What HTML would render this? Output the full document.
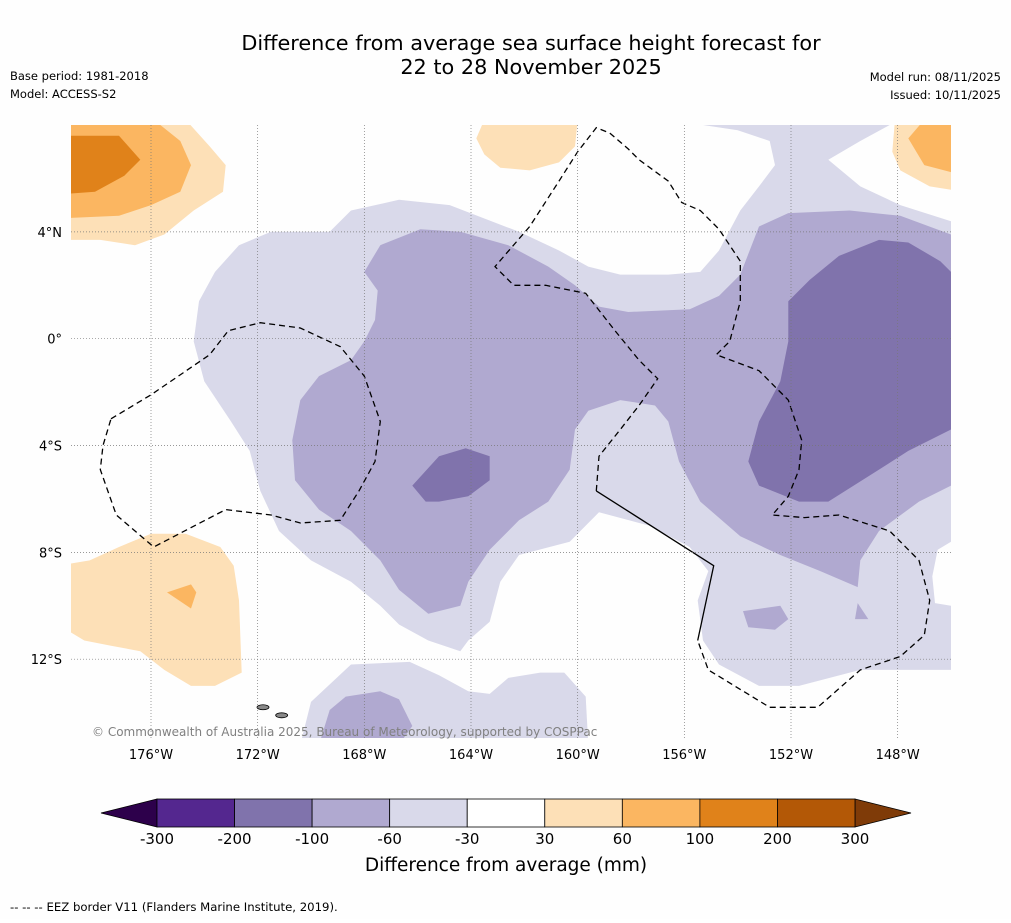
<!DOCTYPE html>
<html><head><meta charset="utf-8"><style>
html,body{margin:0;padding:0;background:#fff;}
body{width:1011px;height:919px;overflow:hidden;font-family:"DejaVu Sans","Liberation Sans",sans-serif;}
svg text{font-family:"DejaVu Sans","Liberation Sans",sans-serif;}
</style></head><body>
<svg id="chart" width="1011" height="919" viewBox="0 0 1011 919" xmlns="http://www.w3.org/2000/svg">
<rect width="1011" height="919" fill="#fefefe"/>
<text x="531" y="50" font-size="20.8" text-anchor="middle" fill="#000">Difference from average sea surface height forecast for</text>
<text x="531" y="74" font-size="20.8" text-anchor="middle" fill="#000">22 to 28 November 2025</text>
<text x="10" y="80" font-size="11.5">Base period: 1981-2018</text>
<text x="10" y="98" font-size="11.5">Model: ACCESS-S2</text>
<text x="1001" y="81" font-size="11.5" text-anchor="end">Model run: 08/11/2025</text>
<text x="1001" y="99" font-size="11.5" text-anchor="end">Issued: 10/11/2025</text>
<defs><clipPath id="mapclip"><rect x="71" y="125" width="880" height="613"/></clipPath></defs>
<g id="map" clip-path="url(#mapclip)"></g>
<g id="axes"></g>
<text x="92" y="736" font-size="12" fill="#808080">© Commonwealth of Australia 2025, Bureau of Meteorology, supported by COSPPac</text>
<g id="cbar"></g>
<text x="506" y="871" font-size="18.5" text-anchor="middle">Difference from average (mm)</text>
<text x="10" y="911" font-size="11.7">--  --  -- EEZ border V11 (Flanders Marine Institute, 2019).</text>
</svg>
<script>
// axis domain
const lonTicks = [-176,-172,-168,-164,-160,-156,-152,-148];
const latTicks = [4,0,-4,-8,-12];
const cbLevels = [-300,-200,-100,-60,-30,30,60,100,200,300];
const cbColors = ["#54278f","#8073ac","#b0a9d0","#d9d9ea","#ffffff","#fde0b7","#fbb661","#e0821a","#b35806"];
// contour fills [lon,lat]
const lightPurple = [[-155.3,8],[-148.3,8],[-149.4,7.4],[-150.6,6.7],[-149.4,5.7],[-147.9,5],[-146,4.4],[-146,-7.6],[-146.5,-7.9],[-146.7,-8.9],[-146.6,-9.9],[-146,-10],[-146,-12.4],[-149.4,-12.4],[-151.7,-13],[-153.2,-13],[-154.7,-12.2],[-155.3,-11.3],[-155.5,-9.8],[-155.1,-8.7],[-155.8,-7.8],[-157.3,-7],[-159.2,-6.5],[-160.3,-7.6],[-162.2,-8.1],[-162.9,-9.1],[-163.3,-10.6],[-164.1,-11.3],[-164.4,-11.7],[-165.6,-11.3],[-166.7,-10.7],[-167.4,-10],[-168.5,-9.1],[-170,-8.3],[-171.2,-7.2],[-171.9,-5.7],[-172.3,-4.2],[-173,-3.1],[-174,-1.6],[-174.4,-0.1],[-174.2,1.4],[-173.6,2.5],[-172.7,3.5],[-171.5,4],[-169.3,4],[-168.5,4.8],[-166.7,5.2],[-164.8,5],[-162.2,4],[-160.7,3.3],[-159.6,2.7],[-158.4,2.4],[-156.6,2.4],[-155.4,2.5],[-154.7,3.3],[-153.9,4.8],[-153.2,5.7],[-152.6,6.5],[-152.8,7.4],[-154,7.8]];
const lightPurpleSouth = [[-170.4,-15.2],[-170,-13.6],[-168.5,-12.2],[-166.3,-12.1],[-165.2,-12.6],[-164.1,-13.2],[-163.3,-13.3],[-162.6,-12.7],[-161.4,-12.5],[-160.5,-12.5],[-159.7,-13.4],[-159.6,-15.2]];
const medPurple = [[-168,2.5],[-167.4,3.5],[-165.9,4.1],[-164.4,4],[-162.6,3.5],[-161.1,2.7],[-160.1,2],[-159.2,1.2],[-158.1,1],[-155.8,1.1],[-154.7,1.6],[-153.9,2.4],[-153.2,4.2],[-152.1,4.7],[-149.8,4.8],[-147.9,4.6],[-146,3.9],[-146,-5.5],[-147.2,-6.1],[-148.7,-7.2],[-149.4,-8.3],[-149.5,-9.3],[-150.9,-8.7],[-152.4,-8.1],[-153.9,-7.4],[-155.4,-6.1],[-156.2,-4.6],[-156.6,-3.1],[-157.1,-2.5],[-158.4,-2.3],[-159.6,-2.7],[-160.1,-3.4],[-160.3,-4.9],[-161.1,-6.1],[-162.2,-6.8],[-163.3,-7.9],[-164.1,-9.1],[-164.4,-10],[-165.6,-10.3],[-166.7,-9.4],[-167.4,-8.3],[-168.5,-7.2],[-169.7,-6.4],[-170.6,-5.3],[-170.7,-3.8],[-170.4,-2.3],[-169.7,-1.4],[-168.5,-0.8],[-168,-0.1],[-167.6,0.7],[-167.5,1.8]];
const medPurpleSouth = [[-169.7,-15.2],[-169.3,-13.9],[-168.7,-13.4],[-167.4,-13.2],[-166.7,-13.5],[-166.2,-14.5],[-166.7,-15.2]];
const medBlobA = [[-153.8,-10.2],[-152.4,-10],[-152.1,-10.5],[-152.6,-10.9],[-153.6,-10.8]];
const medBlobB = [[-149.6,-10.5],[-149.5,-9.9],[-149.1,-10.5]];
const darkPurpleEast = [[-152.1,1.4],[-151.3,2.2],[-150.2,3.1],[-148.7,3.7],[-147.6,3.6],[-146.4,2.9],[-146,2.5],[-146,-3.4],[-147.6,-4.2],[-148.7,-4.9],[-150.6,-6.1],[-151.7,-6.1],[-153.2,-5.5],[-153.6,-4.6],[-153.2,-3.1],[-152.4,-1.6],[-152.1,-0.1]];
const darkPurpleWest = [[-166.2,-5.5],[-165.2,-4.4],[-164.2,-4.1],[-163.3,-4.4],[-163.3,-5.3],[-164.1,-5.9],[-165.2,-6.1],[-165.7,-6.1]];
const orangeNWLight = [[-179.5,8.2],[-174.7,8.2],[-173.8,7.2],[-173.2,6.5],[-173.3,5.5],[-174.4,4.8],[-175.5,3.9],[-176.6,3.5],[-177.9,3.7],[-179.5,3.7]];
const orangeNWMed = [[-179.5,8.2],[-175.9,8.2],[-174.9,7.4],[-174.5,6.5],[-174.9,5.5],[-176,5],[-177.2,4.6],[-179.5,4.5]];
const orangeNWDark = [[-179.5,7.6],[-177.2,7.6],[-176.4,6.7],[-177,6.1],[-178.1,5.5],[-179.5,5.4]];
const orangeNLight = [[-163.5,8.2],[-160,8.2],[-160.1,7.2],[-160.7,6.6],[-161.8,6.3],[-162.9,6.4],[-163.5,6.9],[-163.8,7.5]];
const orangeNELight = [[-148.1,8.2],[-145.5,8.2],[-145.5,5.5],[-146.8,5.7],[-147.9,6.3],[-148.2,7]];
const orangeNEMed = [[-147,8.2],[-145.5,8.2],[-145.5,6.1],[-147,6.5],[-147.6,7.5]];
const orangeSWLight = [[-179.5,-8.5],[-178.3,-8.3],[-177.2,-7.8],[-176,-7.3],[-174.7,-7.3],[-173.4,-7.8],[-172.9,-8.5],[-172.7,-9.8],[-172.6,-12.5],[-173.6,-13],[-174.5,-13],[-175.5,-12.4],[-176.4,-11.7],[-177.5,-11.5],[-178.5,-11.3],[-179.5,-10.7]];
const orangeSWMed = [[-175.4,-9.5],[-174.5,-9.2],[-174.3,-9.5],[-174.5,-10.1]];
// EEZ borders
const eezWest = [[-177.5,-3],[-176,-2.1],[-173.8,-0.6],[-173.1,0.3],[-171.9,0.6],[-170.4,0.4],[-168.9,-0.3],[-168,-1.4],[-167.4,-3.1],[-167.6,-4.6],[-168.2,-5.7],[-168.9,-6.8],[-170.4,-6.9],[-171.5,-6.6],[-173.2,-6.4],[-175.9,-7.8],[-177.3,-6.6],[-177.9,-4.9],[-177.8,-4],[-177.5,-3]];
const eezEast = [[-159.3,-5.7],[-159.2,-4.4],[-158.4,-3.4],[-157.7,-2.5],[-157,-1.5],[-157.7,-0.8],[-158.6,0.3],[-159.7,1.7],[-161.2,2],[-162.4,2],[-163.1,2.7],[-161.8,4.2],[-160.7,5.9],[-160,7],[-159.3,7.9],[-158.8,7.7],[-158.1,7.1],[-157.7,6.7],[-156.6,5.9],[-156.1,5.1],[-155.4,4.8],[-154.7,4.1],[-153.9,2.9],[-153.9,1.4],[-154.3,-0.1],[-154.8,-0.6],[-153.2,-1.2],[-152.1,-2.3],[-151.6,-3.8],[-151.7,-4.9],[-152.1,-5.9],[-152.7,-6.6],[-151.5,-6.7],[-150.2,-6.6],[-148.3,-7.2],[-147.2,-8.3],[-146.8,-9.8],[-147,-11.1],[-147.9,-11.9],[-149.4,-12.4],[-151,-13.8],[-152.8,-13.8],[-155.1,-12.4],[-155.5,-11.3]];
const eezSolid = [[-159.3,-5.7],[-154.9,-8.5],[-155.5,-11.3]];
const islands = [[-171.8,-13.8],[-171.1,-14.1]];

const X0=71,X1=951,Y0=125,Y1=738;
const lonMin=-179, lonMax=-146, latMax=8, latMin=-14.95;
const sx = lon => X0 + (lon-lonMin)/(lonMax-lonMin)*(X1-X0);
const sy = lat => Y0 + (latMax-lat)/(latMax-latMin)*(Y1-Y0);
const NS="http://www.w3.org/2000/svg";
const map=document.getElementById('map');
const axes=document.getElementById('axes');
function pts(a){return a.map(p=>sx(p[0]).toFixed(1)+','+sy(p[1]).toFixed(1)).join(' ');}
function poly(a,fill,name){
  const e=document.createElementNS(NS,'polygon');
  e.setAttribute('points',pts(a));e.setAttribute('fill',fill);
  
  
  map.appendChild(e);
}
function line(a,dash,name){
  const e=document.createElementNS(NS,'polyline');
  e.setAttribute('points',pts(a));e.setAttribute('fill','none');e.setAttribute('stroke','#000');e.setAttribute('stroke-width','1.3');
  if(dash)e.setAttribute('stroke-dasharray','6,4');
  
  
  map.appendChild(e);
}
poly(lightPurple,cbColors[3],'contour-minus30-60');
poly(lightPurpleSouth,cbColors[3],'contour-minus30-60-south');
poly(medPurple,cbColors[2],'contour-minus60-100');
poly(medPurpleSouth,cbColors[2],'contour-minus60-100-south');
poly(medBlobA,cbColors[2],'contour-minus60-100-blob-a');
poly(medBlobB,cbColors[2],'contour-minus60-100-blob-b');
poly(darkPurpleEast,cbColors[1],'contour-minus100-200-east');
poly(darkPurpleWest,cbColors[1],'contour-minus100-200-west');
poly(orangeNWLight,cbColors[5],'contour-30-60-northwest');
poly(orangeNWMed,cbColors[6],'contour-60-100-northwest');
poly(orangeNWDark,cbColors[7],'contour-100-200-northwest');
poly(orangeNLight,cbColors[5],'contour-30-60-north');
poly(orangeNELight,cbColors[5],'contour-30-60-northeast');
poly(orangeNEMed,cbColors[6],'contour-60-100-northeast');
poly(orangeSWLight,cbColors[5],'contour-30-60-southwest');
poly(orangeSWMed,cbColors[6],'contour-60-100-southwest');
islands.forEach((p,i)=>{
  const e=document.createElementNS(NS,'ellipse');
  e.setAttribute('cx',sx(p[0]));e.setAttribute('cy',sy(p[1]));e.setAttribute('rx',6);e.setAttribute('ry',2.5);
  e.setAttribute('fill','#888');e.setAttribute('stroke','#000');e.setAttribute('stroke-width','0.8');
  
  
  map.appendChild(e);
});
line(eezWest,true,'eez-border-west');
line(eezEast,true,'eez-border-east');
line(eezSolid,false,'eez-border-solid');
// gridlines and ticks
lonTicks.forEach(l=>{
  const g=document.createElementNS(NS,'line');
  g.setAttribute('x1',sx(l));g.setAttribute('x2',sx(l));g.setAttribute('y1',Y0);g.setAttribute('y2',Y1);
  g.setAttribute('stroke','#777');g.setAttribute('stroke-width','0.7');g.setAttribute('stroke-dasharray','1,2');
  
  
  axes.appendChild(g);
  const t=document.createElementNS(NS,'text');
  t.setAttribute('x',sx(l));t.setAttribute('y',759);t.setAttribute('font-size','13');t.setAttribute('text-anchor','middle');
  t.textContent=Math.abs(l)+'°W';
  
  
  axes.appendChild(t);
});
latTicks.forEach(l=>{
  const g=document.createElementNS(NS,'line');
  g.setAttribute('x1',X0);g.setAttribute('x2',X1);g.setAttribute('y1',sy(l));g.setAttribute('y2',sy(l));
  g.setAttribute('stroke','#777');g.setAttribute('stroke-width','0.7');g.setAttribute('stroke-dasharray','1,2');
  
  
  axes.appendChild(g);
  const t=document.createElementNS(NS,'text');
  t.setAttribute('x',62);t.setAttribute('y',sy(l)+5);t.setAttribute('font-size','13');t.setAttribute('text-anchor','end');
  t.textContent=l===0?'0°':Math.abs(l)+'°'+(l>0?'N':'S');
  
  
  axes.appendChild(t);
});
// colorbar
const cb=document.getElementById('cbar');
const CB0=157,CB1=855,CBy=799,CBh=28;
const bw=(CB1-CB0)/cbColors.length;
const ext1=document.createElementNS(NS,'polygon');
ext1.setAttribute('points',`${CB0},${CBy} ${CB0},${CBy+CBh} 101,${CBy+CBh/2}`);
ext1.setAttribute('fill','#2d004b');ext1.setAttribute('stroke','#000');ext1.setAttribute('stroke-width','0.8');


cb.appendChild(ext1);
const ext2=document.createElementNS(NS,'polygon');
ext2.setAttribute('points',`${CB1},${CBy} ${CB1},${CBy+CBh} 911,${CBy+CBh/2}`);
ext2.setAttribute('fill','#7f3b08');ext2.setAttribute('stroke','#000');ext2.setAttribute('stroke-width','0.8');


cb.appendChild(ext2);
cbColors.forEach((c,i)=>{
  const r=document.createElementNS(NS,'rect');
  r.setAttribute('x',CB0+i*bw);r.setAttribute('y',CBy);r.setAttribute('width',bw);r.setAttribute('height',CBh);
  r.setAttribute('fill',c);r.setAttribute('stroke','#000');r.setAttribute('stroke-width','0.8');
  
  
  cb.appendChild(r);
});
cbLevels.forEach((v,i)=>{
  const t=document.createElementNS(NS,'text');
  t.setAttribute('x',CB0+i*bw);t.setAttribute('y',844);t.setAttribute('font-size','15');t.setAttribute('text-anchor','middle');
  t.textContent=v;
  
  
  cb.appendChild(t);
});
</script>
</body></html>
